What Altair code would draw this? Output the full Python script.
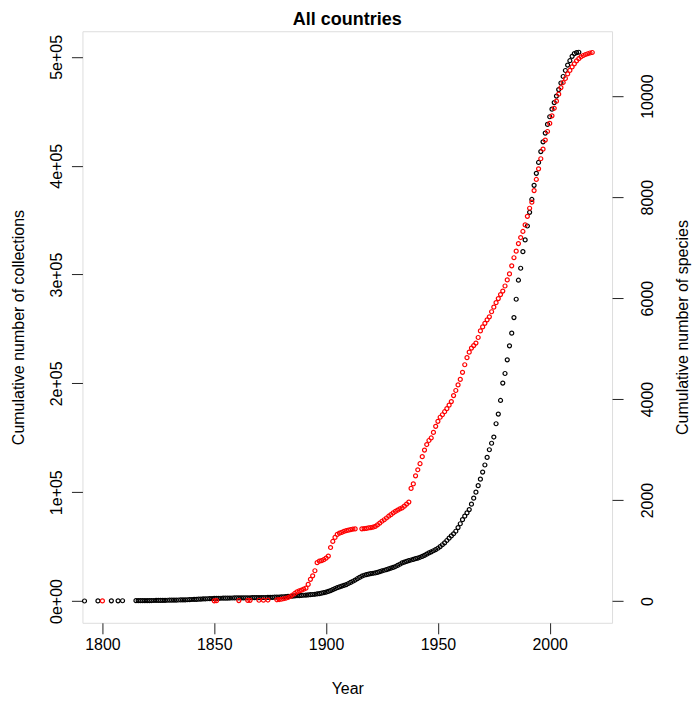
import altair as alt
import pandas as pd

# ---- data ----
black_years = [1792, 1798, 1804, 1807, 1809] + list(range(1815, 2014))
black_values = [
    50, 100, 150, 200, 250,
    300, 320, 340, 360, 380, 400, 430, 460, 490, 520,
    550, 590, 630, 670, 710, 750, 800, 850, 900, 960,
    1020, 1080, 1140, 1200, 1300, 1400, 1500, 1600, 1700, 1800,
    1900, 2000, 2100, 2200, 2300, 2400, 2450, 2500, 2550, 2600,
    2650, 2700, 2750, 2780, 2810, 2840, 2870, 2900, 2930, 2960,
    2990, 3020, 3050, 3080, 3110, 3140, 3180, 3220, 3260, 3300,
    3350, 3420, 3500, 3600, 3700, 3800, 3950, 4100, 4250, 4400,
    4550, 4700, 4850, 5000, 5150, 5300, 5450, 5600, 5800, 6000,
    6200, 6500, 6800, 7200, 7700, 8200, 8800, 9600, 10500, 11400,
    12300, 13000, 13700, 14400, 15100, 16100, 17100, 18200, 19300, 20500,
    21700, 22800, 23700, 24300, 24800, 25200, 25500, 25800, 26400, 27000,
    27700, 28300, 28900, 29600, 30300, 31000, 31700, 32700, 33800, 35000,
    35800, 36500, 37100, 37700, 38300, 38900, 39500, 40200, 41000, 42000,
    43100, 44200, 45200, 46200, 47300, 48500, 50000, 51700, 53500, 55600,
    57800, 59800, 61800, 64100, 67500, 71000, 74800, 78000, 81000, 84000,
    89000, 94500, 100000, 106000, 112000, 118500, 125000, 132000, 139000, 145000,
    150700, 162900, 171800, 184300, 200300, 209100, 221600, 234500, 246100, 260500,
    277300, 294800, 305800, 321000, 331800, 344600, 357200, 369000, 382000, 393000,
    403000, 413000, 422000, 430000, 438000, 445000, 452000, 458000, 464000, 470000,
    476000, 482000, 487500, 492500, 496500, 500500, 503000, 504000, 504300,
]

red_years = ([1800, 1850, 1851, 1861, 1865, 1866, 1870, 1872, 1874]
             + list(range(1878, 1914)) + list(range(1916, 2020)))
red_values = [
    2, 5, 8, 10, 12, 14, 16, 18, 20,
    25, 30, 35, 45, 55, 70, 90, 120, 150, 180,
    200, 215, 235, 255, 330, 430, 500, 600, 760, 790,
    800, 820, 850, 890, 1060, 1180, 1260, 1320, 1345, 1360,
    1380, 1395, 1405, 1415, 1425, 1428,
    1430, 1435, 1440, 1448, 1455, 1465, 1480, 1510, 1545, 1580,
    1610, 1645, 1680, 1710, 1745, 1775, 1800, 1825, 1845, 1880,
    1920, 1960, 2230, 2320, 2480, 2600, 2720, 2860, 2990, 3100,
    3180, 3230, 3340, 3460, 3560, 3640, 3690, 3750, 3810, 3880,
    3950, 4070, 4170, 4280, 4390, 4530, 4680, 4820, 4930, 5010,
    5060, 5110, 5220, 5350, 5430, 5500, 5570, 5630, 5730, 5820,
    5910, 5990, 6070, 6140, 6240, 6360, 6480, 6640, 6800, 6930,
    7080, 7200, 7320, 7450, 7620, 7780, 7900, 8130, 8350, 8560,
    8760, 8950, 9130, 9300, 9460, 9610, 9760, 9900, 10040, 10170,
    10270, 10350, 10440, 10510, 10580, 10640, 10700, 10745, 10780, 10805,
    10825, 10840, 10855, 10865,
]

chart_title = ["All countries"]
x_ticks = [1800, 1850, 1900, 1950, 2000]
left_ticks = [0, 100000, 200000, 300000, 400000, 500000]
right_ticks = [0, 2000, 4000, 6000, 8000, 10000]

black_df = pd.DataFrame({"year": black_years, "collections": black_values})
red_df = pd.DataFrame({"year": red_years, "species": red_values})
title_df = pd.DataFrame({"t": chart_title})

FONT = "Liberation Sans"
INK = "#222222"
W, H = 530, 592

x_scale = alt.Scale(domain=[1791.07, 2027.86], nice=False, zero=False)

black = alt.Chart(black_df).mark_point(
    shape="circle", filled=False, size=16, strokeWidth=1.2, color="#000000", opacity=1
).encode(
    x=alt.X("year:Q", scale=x_scale, axis=alt.Axis(
        values=x_ticks, format="d", title="Year", grid=False, domain=False,
        tickSize=11, tickColor=INK, tickWidth=1,
        labelFont=FONT, labelFontSize=16, labelColor="#000000",
        labelBaseline="middle", labelPadding=11, labelFlush=False,
        titleFont=FONT, titleFontSize=16, titleFontWeight="normal", titleColor="#000000",
        titleX=W / 2, titleY=66, titleBaseline="middle", titleAlign="center",
    )),
    y=alt.Y("collections:Q", scale=alt.Scale(domain=[-20007, 523587], nice=False, zero=False),
            axis=alt.Axis(
                orient="left", values=left_ticks,
                labelExpr="datum.value == 0 ? '0e+00' : (datum.value / 100000) + 'e+05'",
                title="Cumulative number of collections", grid=False, domain=False,
                tickSize=11, tickColor=INK, tickWidth=1,
                labelFont=FONT, labelFontSize=16, labelColor="#000000",
                labelAngle=270, labelAlign="center", labelBaseline="middle",
                labelPadding=15, labelFlush=False, labelOverlap=False,
                titleFont=FONT, titleFontSize=16, titleFontWeight="normal", titleColor="#000000",
                titleAngle=270, titleX=-64, titleY=H / 2, titleAlign="center",
                titleBaseline="middle",
            )),
)

red = alt.Chart(red_df).mark_point(
    shape="circle", filled=False, size=16, strokeWidth=1.2, color="#ff0000", opacity=1
).encode(
    x=alt.X("year:Q", scale=x_scale),
    y=alt.Y("species:Q", scale=alt.Scale(domain=[-431, 11286], nice=False, zero=False),
            axis=alt.Axis(
                orient="right", values=right_ticks, format="d",
                title="Cumulative number of species", grid=False, domain=False,
                tickSize=11, tickColor=INK, tickWidth=1,
                labelFont=FONT, labelFontSize=16, labelColor="#000000",
                labelAngle=270, labelAlign="center", labelBaseline="middle",
                labelPadding=24, labelFlush=False, labelOverlap=False,
                titleFont=FONT, titleFontSize=16, titleFontWeight="normal", titleColor="#000000",
                titleAngle=270, titleX=70, titleY=H / 2, titleAlign="center",
                titleBaseline="middle",
            )),
)

title = alt.Chart(title_df).mark_text(
    font=FONT, fontSize=18, fontWeight="bold", color="#000000",
    align="center", baseline="alphabetic",
).encode(text="t:N", x=alt.value(W / 2), y=alt.value(-6.5))

chart = alt.layer(black, red, title).resolve_scale(y="independent").properties(
    width=W, height=H,
    autosize="none",
    padding={"left": 74.5, "top": 23, "right": 80, "bottom": 76},
).configure_view(
    stroke=INK, strokeWidth=1
).configure(background="white")

chart.save("out.html", embed_options={"renderer": "svg", "actions": False})
